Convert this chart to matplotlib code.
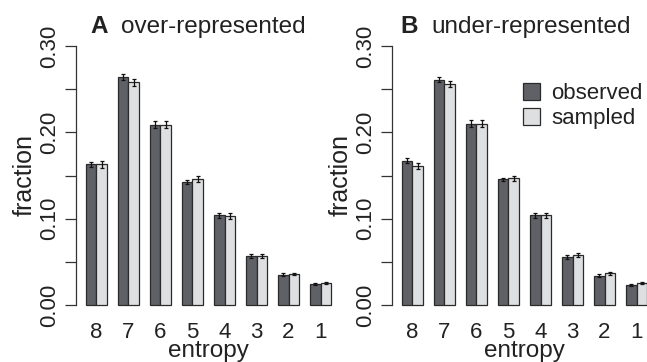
import matplotlib
matplotlib.use("Agg")
import matplotlib.pyplot as plt
import numpy as np
from matplotlib.patches import Patch

plt.rcParams['font.family'] = ['Liberation Sans', 'DejaVu Sans']

categories = ["8", "7", "6", "5", "4", "3", "2", "1"]

over_observed = [0.163, 0.264, 0.209, 0.1425, 0.104, 0.057, 0.035, 0.024]
over_sampled = [0.163, 0.258, 0.209, 0.146, 0.103, 0.057, 0.036, 0.026]
over_obs_err = [0.003, 0.003, 0.004, 0.002, 0.003, 0.002, 0.0015, 0.0012]
over_samp_err = [0.004, 0.004, 0.004, 0.003, 0.003, 0.002, 0.0015, 0.0012]

under_observed = [0.167, 0.261, 0.210, 0.1455, 0.104, 0.0556, 0.034, 0.0228]
under_sampled = [0.161, 0.256, 0.210, 0.147, 0.104, 0.058, 0.0367, 0.026]
under_obs_err = [0.003, 0.003, 0.004, 0.002, 0.003, 0.002, 0.0015, 0.0012]
under_samp_err = [0.004, 0.004, 0.004, 0.003, 0.003, 0.002, 0.0015, 0.0012]

titles = [("A", "over-represented"), ("B", "under-represented")]
series_names = ["observed", "sampled"]
yticks = [0.00, 0.05, 0.10, 0.15, 0.20, 0.25, 0.30]
ytick_labels = ["0.00", "", "0.10", "", "0.20", "", "0.30"]

dark = "#606167"
light = "#dedfe1"
edge = "#2a2a2a"
txt = "#222222"
FS_TICK = 16
FS_LAB = 17.5
FS_TITLE = 17.5
FS_LEG = 16

W, H = 647, 362
fig = plt.figure(figsize=(W / 100, H / 100), dpi=100)

ppu = 259 / 0.30  # pixels per y unit
y_bottom_px = 305 + 0.012 * ppu
y_top_px = 46 - 0.012 * ppu
width_px = 265
height_px = y_bottom_px - y_top_px


def make_axes(left_px):
    return fig.add_axes([left_px / W, 1 - y_bottom_px / H, width_px / W,
                         height_px / H])


panels = [
    (76, over_observed, over_sampled, over_obs_err, over_samp_err, 1.39, 4.27),
    (392, under_observed, under_sampled, under_obs_err, under_samp_err, 0.83, 3.80),
]

n = len(categories)
k = np.arange(n)
obs_x = 1.5 + 3 * k
samp_x = 2.5 + 3 * k

for i, (left_px, obs, samp, oe, se, lx, tx) in enumerate(panels):
    ax = make_axes(left_px)
    ax.bar(obs_x, obs, width=1.0, color=dark, edgecolor=edge, linewidth=0.9,
           label=series_names[0])
    ax.bar(samp_x, samp, width=1.0, color=light, edgecolor=edge, linewidth=0.9,
           label=series_names[1])
    ax.errorbar(obs_x, obs, yerr=oe, fmt='none', ecolor="#111111",
                elinewidth=0.9, capsize=1.6, capthick=0.9)
    ax.errorbar(samp_x, samp, yerr=se, fmt='none', ecolor="#111111",
                elinewidth=0.9, capsize=1.6, capthick=0.9)
    ax.set_xlim(0.08, 24.92)
    ax.set_ylim(-0.012, 0.312)
    for s in ["top", "right", "bottom"]:
        ax.spines[s].set_visible(False)
    ax.spines["left"].set_bounds(0, 0.30)
    ax.spines["left"].set_color("#333333")
    ax.spines["left"].set_linewidth(0.9)
    ax.set_yticks(yticks)
    ax.set_yticklabels(ytick_labels, rotation=90, va="center", fontsize=FS_TICK,
                       color=txt)
    ax.tick_params(axis="y", length=8, width=0.9, color="#333333", pad=3.5)
    ax.set_xticks(2 + 3 * k)
    ax.set_xticklabels(categories, fontsize=FS_TICK, color=txt)
    ax.tick_params(axis="x", length=0, pad=4.5)
    ax.set_xlabel("entropy", fontsize=FS_LAB, color=txt, va="bottom")
    ax.xaxis.set_label_coords(0.5, (y_bottom_px - 361.5) / height_px)
    ax.set_ylabel("fraction", fontsize=FS_LAB + 0.5, color=txt, labelpad=2)
    letter, ttl = titles[i]
    ax.text(lx, 0.3147, letter, fontsize=FS_TITLE, fontweight="bold",
            color=txt, va="baseline", ha="left", clip_on=False)
    ax.text(tx, 0.3147, ttl, fontsize=FS_TITLE,
            color=txt, va="baseline", ha="left", clip_on=False)
    if i == 1:
        handles = [Patch(facecolor=dark, edgecolor=edge, linewidth=0.9),
                   Patch(facecolor=light, edgecolor=edge, linewidth=0.9)]
        ax.legend(handles, series_names, loc="upper left",
                  bbox_to_anchor=((523 - left_px) / width_px,
                                  1 - (83 - y_top_px) / height_px),
                  frameon=False, fontsize=FS_LEG, handlelength=0.78, handleheight=0.78,
                  handletextpad=0.5, labelspacing=0.18, borderaxespad=0,
                  borderpad=0, labelcolor=txt)

fig.savefig("out.png", dpi=100)
